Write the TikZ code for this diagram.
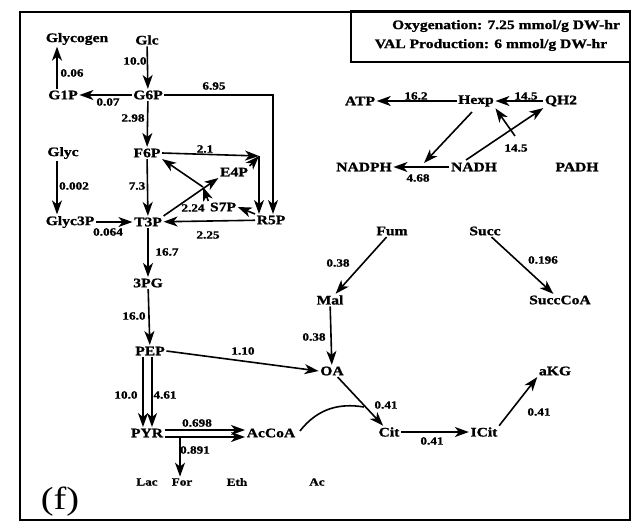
\documentclass[tikz,border=0pt]{standalone}
\usepackage{fontspec}
\setmainfont[FakeStretch=1.2, BoldFeatures={FakeBold=1.2}]{Liberation Serif}
\usetikzlibrary{arrows.meta}
\begin{document}
\begin{tikzpicture}[x=1pt,y=-1pt,
  met/.style={font=\bfseries\fontsize{13}{15}\selectfont, inner sep=1.5pt},
  sml/.style={font=\bfseries\fontsize{11}{13}\selectfont, inner sep=1.5pt},
  lab/.style={font=\bfseries\fontsize{11}{12}\selectfont, inner sep=0pt},
  arr/.style={-{Stealth[length=14pt,width=10pt,inset=4pt]}, line width=1.6pt},
  ln/.style={line width=1.6pt}]
\useasboundingbox (0,0) rectangle (632,523);
\draw[line width=1.2pt] (20,12) rectangle (630,520);
\draw[line width=1.2pt] (351,11) rectangle (630,62);
\node[font=\bfseries\fontsize{13}{15}\selectfont] (oxy) at (506,26) {Oxygenation: 7.25 mmol/g DW-hr};
\node[font=\bfseries\fontsize{13}{15}\selectfont] (val) at (491,45) {VAL Production: 6 mmol/g DW-hr};
\node[font=\fontsize{32}{34}\selectfont, inner sep=0pt] (f) at (60,502) {(f)};

% metabolites
\node[met] (Glycogen) at (77,39) {Glycogen};
\node[met] (Glc) at (147,40) {Glc};
\node[met] (G1P) at (63,95) {G1P};
\node[met] (G6P) at (148,95) {G6P};
\node[met] (F6P) at (147,153) {F6P};
\node[met] (Glyc) at (63,153) {Glyc};
\node[met] (Glyc3P) at (70,222) {Glyc3P};
\node[met] (T3P) at (148,222) {T3P};
\node[met] (E4P) at (234,172) {E4P};
\node[met] (S7P) at (223,207) {S7P};
\node[met] (R5P) at (271,220) {R5P};
\node[met] (PG) at (148,283) {3PG};
\node[met] (PEP) at (150,351) {PEP};
\node[met] (PYR) at (147,433) {PYR};
\node[met] (AcCoA) at (271,433) {AcCoA};
\node[sml] (Lac) at (147,482) {Lac};
\node[sml] (For) at (182,482) {For};
\node[sml] (Eth) at (237,482) {Eth};
\node[sml] (Ac) at (317,482) {Ac};
\node[met] (OA) at (332,371) {OA};
\node[met] (Mal) at (330,300) {Mal};
\node[met] (Fum) at (392,231) {Fum};
\node[met] (Succ) at (485,231) {Succ};
\node[met] (SuccCoA) at (560,300) {SuccCoA};
\node[met] (Cit) at (389,432) {Cit};
\node[met] (ICit) at (484,432) {ICit};
\node[met] (aKG) at (555,371) {aKG};
\node[met] (ATP) at (360,101) {ATP};
\node[met] (Hexp) at (476,101) {Hexp};
\node[met] (QH2) at (561,101) {QH2};
\node[met] (NADPH) at (364,167) {NADPH};
\node[met] (NADH) at (474,167) {NADH};
\node[met] (PADH) at (577,167) {PADH};

% junction coordinates
\coordinate (J) at (259,156);
\coordinate (X) at (203,187);
\coordinate (pf) at (180,437);
\coordinate (M) at (515,136);
\coordinate (J2) at (424,163);
\coordinate (hs) at (472,112);
\coordinate (ns) at (466,160);
\coordinate (cj) at (364,407);

% glycolysis / PPP
\draw[arr] (Glc) -- (G6P);
\node[lab] (l1) at (135,61) {10.0};
\draw[arr] (G6P) -- (G1P);
\node[lab] (l2) at (108,102) {0.07};
\draw[arr] ([xshift=-6pt]G1P.north) -- ([xshift=-20pt]Glycogen.south);
\node[lab] (l3) at (72,73) {0.06};
\draw[arr] (G6P.east) -| ([xshift=2pt]R5P.north);
\node[lab] (l4) at (214,86) {6.95};
\draw[arr] (G6P) -- (F6P);
\node[lab] (l5) at (133,118) {2.98};
\draw[arr] (F6P.east) -- (J);
\node[lab] (l6) at (205,149) {2.1};
\draw[arr] (E4P.north east) -- (J);
\draw[arr] (J) -- (J |- R5P.north);
\draw[arr] (F6P) -- (T3P);
\node[lab] (l7) at (137,186) {7.3};
\draw[arr] ([xshift=-6pt]Glyc.south) -- ([xshift=-13pt]Glyc3P.north);
\node[lab] (l8) at (74,186) {0.002};
\draw[arr] (Glyc3P) -- (T3P);
\node[lab] (l9) at (108,232) {0.064};
\draw[arr] (R5P) -- (T3P);
\node[lab] (l10) at (208,235) {2.25};
\draw[arr] (R5P.north west) -- (S7P.east);
\draw[arr] (T3P.north east) -- (E4P.south west);
\draw[arr] (S7P.north west) -- (X);
\draw[arr] (X) -- (F6P.south east);
\node[lab] (l11) at (193,208) {2.24};
\draw[arr] (T3P) -- (PG);
\node[lab] (l12) at (167,252) {16.7};
\draw[arr] (PG) -- (PEP);
\node[lab] (l13) at (134,316) {16.0};
\draw[arr] ([xshift=-7pt]PEP.south) -- ([xshift=-4pt]PYR.north);
\draw[arr] ([xshift=2pt]PEP.south) -- ([xshift=5pt]PYR.north);
\node[lab] (l14) at (126,395) {10.0};
\node[lab] (l15) at (165,395) {4.61};
\draw[arr] ([yshift=3pt]PYR.east) -- ([yshift=3pt]AcCoA.west);
\draw[arr] ([yshift=-4pt]PYR.east) -- ([yshift=-4pt]AcCoA.west);
\node[lab] (l16) at (197,423) {0.698};
\draw[arr] (pf) -- (pf |- For.north);
\node[lab] (l17) at (195,450) {0.891};
\draw[arr] (PEP.east) -- (OA.west);
\node[lab] (l18) at (243,351) {1.10};

% TCA
\draw[arr] (Fum) -- (Mal);
\node[lab] (l19) at (338,263) {0.38};
\draw[arr] (Mal) -- (OA);
\node[lab] (l20) at (314,337) {0.38};
\draw[arr] (OA) -- (Cit);
\node[lab] (l21) at (386,405) {0.41};
\draw[ln] ([xshift=3pt,yshift=-4pt]AcCoA.north east) .. controls (318,408) and (340,403) .. (cj);
\draw[arr] (Cit) -- (ICit);
\node[lab] (l22) at (432,441) {0.41};
\draw[arr] (ICit.north east) -- (aKG.south west);
\node[lab] (l23) at (539,412) {0.41};
\draw[arr] (Succ) -- (SuccCoA);
\node[lab] (l24) at (543,260) {0.196};

% energy
\draw[arr] (Hexp) -- (ATP);
\node[lab] (l25) at (416,96) {16.2};
\draw[arr] (QH2) -- (Hexp);
\node[lab] (l26) at (526,96) {14.5};
\draw[arr] (ns) -- (QH2.south west);
\draw[arr] (M) -- (Hexp.south east);
\node[lab] (l27) at (516,148) {14.5};
\draw[arr] (hs) -- (J2);
\draw[arr] (NADH) -- (NADPH);
\node[lab] (l28) at (418,178) {4.68};
\end{tikzpicture}
\end{document}
